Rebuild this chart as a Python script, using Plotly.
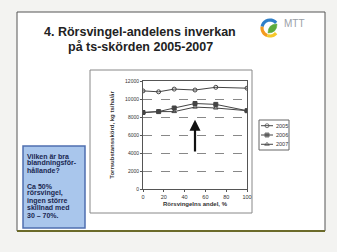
import math
import plotly.graph_objects as go

share = [0, 15, 30, 50, 70, 100]
y2005 = [10900, 10800, 11100, 11000, 11300, 11200]
y2006 = [8500, 8600, 9000, 9500, 9400, 8700]
y2007 = [8500, 8600, 8600, 9100, 9000, 8700]
years = ["2005", "2006", "2007"]
yticks = [0, 2000, 4000, 6000, 8000, 10000, 12000]
xticks = [0, 20, 40, 60, 80, 100]
box_lines = ["Vilken är bra", "blandningsför-", "hållande?", "", "Ca 50%",
             "rörsvingel,", "ingen större", "skillnad med", "30 – 70%."]

W, H = 337, 252
def px(x): return x / W
def py(y): return 1 - y / H

lc = "#444"
symbols = ["circle-open", "square", "triangle-up-open"]
series = [y2005, y2006, y2007]

fig = go.Figure()
for name, ys, sym in zip(years, series, symbols):
    fig.add_trace(go.Scatter(x=share, y=ys, name=name, mode="lines+markers",
                             showlegend=False,
                             line=dict(color=lc, width=1),
                             marker=dict(symbol=sym, size=4, color=lc,
                                         line=dict(width=1, color=lc))))

# legend samples in a tiny axis inside the legend box
for i, (name, sym) in enumerate(zip(years, symbols)):
    fig.add_trace(go.Scatter(x=[0, 0.5, 1], y=[i, i, i], mode="lines+markers",
                             showlegend=False, xaxis="x2", yaxis="y2", hoverinfo="skip",
                             line=dict(color=lc, width=1),
                             marker=dict(symbol=sym, size=[0, 4, 0], color=lc,
                                         line=dict(width=1, color=lc))))

shapes = [
    dict(type="rect", xref="paper", yref="paper", x0=px(17), x1=px(325), y0=py(231), y1=py(12),
         line=dict(color="#555", width=1), fillcolor="white", layer="below"),
    dict(type="line", xref="paper", yref="paper", x0=px(17), x1=px(325), y0=py(231), y1=py(231),
         line=dict(color="#6b6a2a", width=2)),
    dict(type="rect", xref="paper", yref="paper", x0=px(90), x1=px(252), y0=py(213), y1=py(70),
         line=dict(color="#888", width=1), fillcolor="white", layer="below"),
    dict(type="rect", xref="paper", yref="paper", x0=px(23), x1=px(85), y0=py(228), y1=py(146),
         line=dict(color="#4f6fb0", width=1.5), fillcolor="#a9c6ec", layer="below"),
    dict(type="rect", xref="paper", yref="paper", x0=px(259), x1=px(289), y0=py(150), y1=py(120),
         line=dict(color="#666", width=1), fillcolor="white", layer="below"),
]

# logo arcs
def arc(cx, cy, r, a0, a1, color, width):
    n = 10
    pts = []
    for k in range(n + 1):
        a = math.radians(a0 + (a1 - a0) * k / n)
        pts.append((px(cx + r * math.cos(a)), py(cy - r * math.sin(a))))
    path = "M " + " L ".join(f"{x:.5f},{y:.5f}" for x, y in pts)
    return dict(type="path", xref="paper", yref="paper", path=path,
                line=dict(color=color, width=width))

shapes += [
    arc(270, 28, 8, 40, 170, "#2f7fc8", 3.2),
    arc(270, 28, 8, 170, 250, "#f39a1e", 3.2),
    arc(270, 28, 8, 250, 320, "#f6c82a", 3.2),
    dict(type="path", xref="paper", yref="paper",
         path=f"M {px(268)},{py(33)} Q {px(268)},{py(24)} {px(277)},{py(24)} Q {px(277)},{py(33)} {px(268)},{py(33)} Z",
         fillcolor="#5cab3c", line=dict(color="#5cab3c", width=0.5)),
]

F = "Liberation Sans, Arial"
annotations = [
    dict(text="<b>4. Rörsvingel-andelens inverkan</b>", xref="paper", yref="paper",
         x=px(140), y=py(32), xanchor="center", yanchor="middle", showarrow=False,
         font=dict(family=F, size=12.5, color="#222")),
    dict(text="<b>på ts-skörden 2005-2007</b>", xref="paper", yref="paper",
         x=px(140), y=py(47), xanchor="center", yanchor="middle", showarrow=False,
         font=dict(family=F, size=12.5, color="#222")),
    dict(text="MTT", xref="paper", yref="paper", x=px(282), y=py(23.5), xanchor="left",
         yanchor="middle", showarrow=False, font=dict(family=F, size=10, color="#9aa0a8")),
    dict(x=50, y=7700, ax=50, ay=4000, xref="x", yref="y", axref="x", ayref="y",
         showarrow=True, arrowhead=2, arrowsize=1, arrowwidth=2.2, arrowcolor="#111", text=""),
]
for i, t in enumerate(box_lines):
    if not t:
        continue
    yy = 156 + i * 7.3 + (0.8 if i > 3 else 0)
    annotations.append(dict(text=f"<b>{t}</b>", xref="paper", yref="paper",
                            x=px(25), y=py(yy), xanchor="left", yanchor="middle",
                            showarrow=False,
                            font=dict(family=F, size=7, color="#1a2750")))
for i, name in enumerate(years):
    annotations.append(dict(text=name, xref="x2", yref="y2", x=1.05, y=i,
                            xanchor="left", yanchor="middle", showarrow=False,
                            font=dict(family=F, size=5.5, color="#333")))

fig.update_layout(
    width=W, height=H, margin=dict(l=0, r=0, t=0, b=0, autoexpand=False),
    paper_bgcolor="#f3f3f1", plot_bgcolor="white",
    shapes=shapes, annotations=annotations, showlegend=False,
    xaxis=dict(domain=[px(143), px(247)], range=[0, 100], tickvals=xticks,
               showgrid=False, zeroline=False, showline=True, linecolor="#555", mirror=True,
               ticks="outside", ticklen=2, tickcolor="#555", automargin=False,
               tickfont=dict(family=F, size=5.5, color="#333"),
               title=dict(text="<b>Rörsvingelns andel, %</b>", standoff=3,
                          font=dict(family=F, size=6, color="#333"))),
    yaxis=dict(domain=[py(189), py(81)], range=[0, 12000], tickvals=yticks,
               tickformat="d",
               showgrid=True, gridcolor="#888", griddash="dash", gridwidth=0.8,
               zeroline=False, showline=True, linecolor="#555", mirror=True,
               ticks="outside", ticklen=2, tickcolor="#555", automargin=False,
               tickfont=dict(family=F, size=5, color="#333"),
               title=dict(text="<b>Torrsubstansskörd, kg ts/ha/år</b>", standoff=9,
                          font=dict(family=F, size=6, color="#333"))),
    xaxis2=dict(domain=[px(261), px(285)], range=[0, 2], visible=False, fixedrange=True),
    yaxis2=dict(domain=[py(148), py(122)], range=[2.4, -0.4], visible=False, fixedrange=True,
                anchor="x2"),
)
fig.update_layout(xaxis2_anchor="y2")

fig.write_html("out.html")
